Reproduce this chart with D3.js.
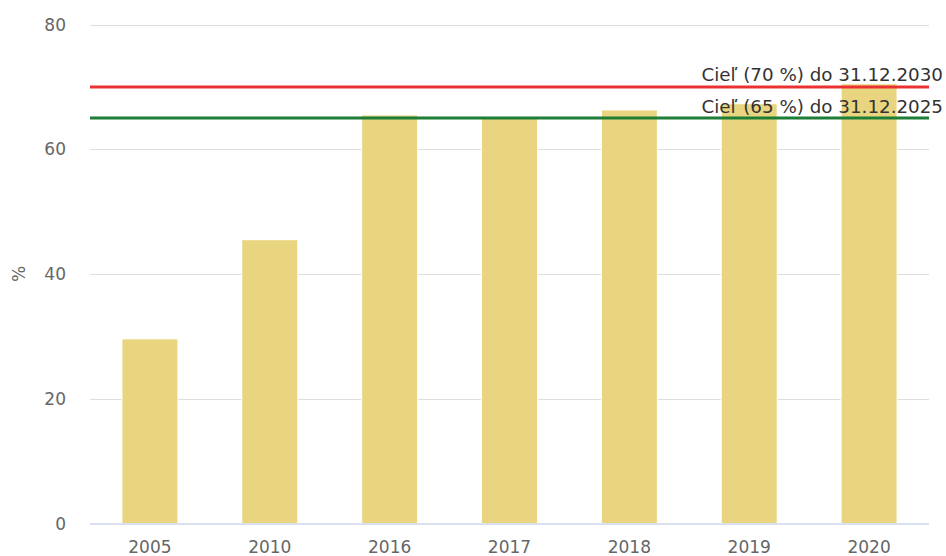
<!DOCTYPE html>
<html>
<head>
<meta charset="utf-8">
<script src="https://cdn.jsdelivr.net/npm/d3@7"></script>
<style>
  body { margin: 0; background: #fff; }
  svg { display: block; font-family: "DejaVu Sans", sans-serif; }
</style>
</head>
<body>
<svg id="chart" width="946" height="556"></svg>
<script>
// data
var years = ['2005', '2010', '2016', '2017', '2018', '2019', '2020'];
var values = [29.6, 45.5, 65.5, 65.2, 66.3, 67.3, 70.5];
var yTicks = [0, 20, 40, 60, 80];
var targets = [
  { value: 70, label: 'Cieľ (70 %) do 31.12.2030', color: '#eb3232' },
  { value: 65, label: 'Cieľ (65 %) do 31.12.2025', color: '#1e7d37' }
];

var svg = d3.select('#chart');
var plotLeft = 90, plotRight = 929, plotTop = 24.5, plotBottom = 523.5;

var x = d3.scaleBand().domain(years).range([plotLeft, plotRight]).paddingInner(0.533).paddingOuter(0.2665);
var y = d3.scaleLinear().domain([0, 80]).range([plotBottom, plotTop]);

// gridlines
svg.append('g').selectAll('line')
  .data(yTicks.filter(function (d) { return d > 0; }))
  .enter().append('line')
  .attr('x1', plotLeft).attr('x2', plotRight)
  .attr('y1', function (d) { return Math.round(y(d)) + 0.5; })
  .attr('y2', function (d) { return Math.round(y(d)) + 0.5; })
  .attr('stroke', '#dedede').attr('stroke-width', 1);

// y tick labels
svg.append('g').selectAll('text')
  .data(yTicks)
  .enter().append('text')
  .attr('x', 66)
  .attr('y', function (d) { return y(d) + 6; })
  .attr('text-anchor', 'end')
  .attr('fill', '#666')
  .style('font-size', '17px')
  .text(function (d) { return d; });

// axis title
svg.append('text')
  .attr('transform', 'translate(25,' + ((plotTop + plotBottom) / 2) + ') rotate(-90)')
  .attr('text-anchor', 'middle')
  .attr('fill', '#666')
  .style('font-size', '17px')
  .text('%');

// bars
svg.append('g').selectAll('rect')
  .data(values)
  .enter().append('rect')
  .attr('x', function (d, i) { return x(years[i]); })
  .attr('width', x.bandwidth())
  .attr('y', function (d) { return y(d); })
  .attr('height', function (d) { return plotBottom - y(d); })
  .attr('fill', '#e9d57f')
  .attr('stroke', '#fff')
  .attr('stroke-width', 1);

// x axis line
svg.append('line')
  .attr('x1', plotLeft).attr('x2', plotRight)
  .attr('y1', plotBottom + 0.5).attr('y2', plotBottom + 0.5)
  .attr('stroke', '#ccd6eb').attr('stroke-width', 1.5);

// x labels
svg.append('g').selectAll('text')
  .data(years)
  .enter().append('text')
  .attr('x', function (d) { return x(d) + x.bandwidth() / 2; })
  .attr('y', 553)
  .attr('text-anchor', 'middle')
  .attr('fill', '#666')
  .style('font-size', '17px')
  .text(function (d) { return d; });

// target lines
var t = svg.append('g').selectAll('g').data(targets).enter().append('g');
t.append('line')
  .attr('x1', plotLeft).attr('x2', plotRight)
  .attr('y1', function (d) { return y(d.value); })
  .attr('y2', function (d) { return y(d.value); })
  .attr('stroke', function (d) { return d.color; })
  .attr('stroke-width', 3);
t.append('text')
  .attr('x', 943)
  .attr('y', function (d) { return y(d.value) - 5.5; })
  .attr('text-anchor', 'end')
  .attr('fill', '#333')
  .style('font-size', '18.3px')
  .text(function (d) { return d.label; });
</script>
</body>
</html>
